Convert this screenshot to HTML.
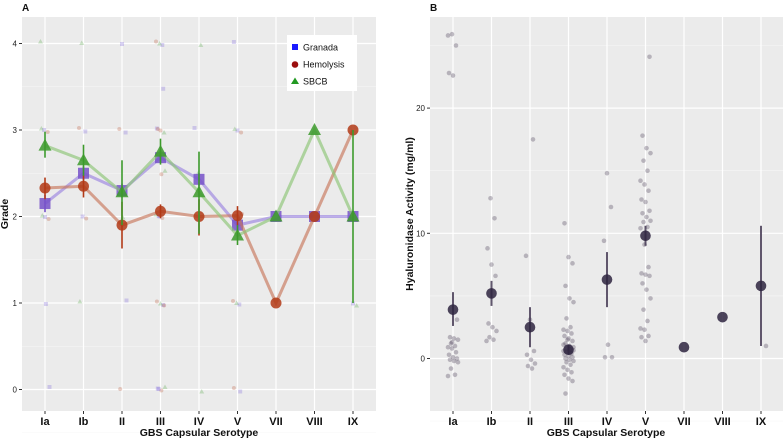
<!DOCTYPE html>
<html><head><meta charset="utf-8"><style>
body{margin:0;background:#fff;width:784px;height:439px;overflow:hidden}
svg{display:block;font-family:"Liberation Sans",Arial,sans-serif}
</style></head><body>
<svg id="chart" width="784" height="439" viewBox="0 0 784 439" xmlns="http://www.w3.org/2000/svg"></svg>
<script>
const categories=["Ia","Ib","II","III","IV","V","VII","VIII","IX"];
const granadaMean=[2.15,2.5,2.3,2.68,2.43,1.9,2,2,2];
const granadaLo=[2.05,2.42,2.22,2.62,2.35,1.84,2,2,2];
const granadaHi=[2.25,2.58,2.38,2.74,2.5,1.96,2,2,2];
const hemoMean=[2.33,2.35,1.9,2.06,2.0,2.01,1.0,2.0,3.0];
const hemoLo=[2.2,2.22,1.63,1.98,1.78,1.9,1,2,3];
const hemoHi=[2.45,2.48,2.17,2.14,2.2,2.12,1,2,3];
const sbcbMean=[2.82,2.65,2.28,2.75,2.28,1.78,2.0,3.0,2.0];
const sbcbLo=[2.68,2.47,1.9,2.6,1.8,1.67,2,3,1.0];
const sbcbHi=[2.98,2.83,2.65,2.9,2.75,1.9,2,3,3.0];
const gradeRawCat=[0,0,0,0,0,0,0,0,0,1,1,1,1,1,1,2,2,2,2,2,2,3,3,3,3,3,3,3,3,3,3,3,3,3,3,3,3,3,3,3,3,3,3,4,4,4,4,5,5,5,5,5,5,5,5,5,5,5,5,8,8];
const gradeRawVal=[4,3,3,3,2,2,2,1,0,4,3,3,2,2,1,4,3,3,2,1,0,4,4,4,3.5,3,3,3,3,2.5,2.5,2,2,2,2,1,1,1,1,0,0,0,0,4,3,2.5,0,4,3,3,3,2,2,2,1,1,1,0,0,1,1];
const gradeRawSer=[2,0,1,2,0,1,2,0,0,2,0,1,0,1,2,0,0,1,2,0,1,0,1,2,0,0,1,2,1,1,2,0,1,2,0,0,1,2,1,0,1,2,0,2,0,2,2,0,0,1,2,0,1,2,0,1,2,0,1,0,2];
const bRaw=[
[25.8,25.9,25.0,22.8,22.6,3.1,1.7,1.6,1.5,1.2,1.0,0.9,0.8,0.5,0.3,0.1,0,-0.1,-0.2,-0.3,-0.8,-1.3,-1.4,1.3],
[12.8,11.2,8.8,7.5,6.6,2.8,2.5,2.2,1.7,1.5,1.4],
[17.5,8.2,3.1,0.6,0.3,-0.1,-0.4,-0.6,-0.8],
[10.8,8.1,7.6,5.8,4.8,4.5,3.2,2.5,2.3,2.2,2.0,1.8,1.6,1.4,1.2,1.0,0.9,0.8,0.7,0.6,0.5,0.4,0.3,0.2,0.1,0,-0.1,-0.2,-0.3,-0.5,-0.7,-0.9,-1.1,-1.3,-1.6,-1.8,-2.8,0.75,0.65,0.55,0.45,1.1,1.5],
[14.8,12.1,9.4,1.1,0.1,0.1],
[24.1,17.8,16.8,16.4,15.8,15.0,14.2,13.9,13.4,12.7,12.5,11.8,11.6,11.3,11.0,10.9,10.5,10.4,9.1,7.3,6.8,6.7,6.6,6.0,5.5,4.8,3.9,3.0,2.4,2.3,1.8,1.7,1.4],
[],[],[1.0]];
const hyaMean=[3.9,5.2,2.5,0.7,6.3,9.8,0.9,3.3,5.8];
const hyaLo=[2.6,4.2,0.9,0.3,4.1,9.0,0.9,3.3,1.0];
const hyaHi=[5.3,6.2,4.1,1.1,8.5,10.6,0.9,3.3,10.6];
const aTicks=[0,1,2,3,4];const bTicks=[0,10,20];

const NS="http://www.w3.org/2000/svg";const svg=document.getElementById('chart');
function el(t,a,p){const e=document.createElementNS(NS,t);for(const k in a)e.setAttribute(k,a[k]);(p||svg).appendChild(e);return e;}
function jit(i,amp){return ((i*37%11)/10-0.5)*amp;}
// Panel A
const ax=i=>45+i*38.5, ay=v=>389.5-v*86.5;
const gA=el('g',{});
const bgA=el('rect',{x:22,y:17,width:354,height:394,fill:'#ebebeb'},gA);
for(let v=-0.5;v<=4.3;v+=0.5){if(Number.isInteger(v))continue;el('line',{x1:22,x2:376,y1:ay(v),y2:ay(v),stroke:'#f7f7f7','stroke-width':0.6},gA);}
aTicks.forEach(v=>{el('line',{x1:22,x2:376,y1:ay(v),y2:ay(v),stroke:'#fff','stroke-width':1.2},gA);el('line',{x1:19,x2:22,y1:ay(v),y2:ay(v),stroke:'#333'},gA);const t=el('text',{x:17,y:ay(v)+3,'font-size':8,'text-anchor':'end',fill:'#222'},gA);t.textContent=v;});
categories.forEach((c,i)=>{el('line',{x1:ax(i),x2:ax(i),y1:17,y2:411,stroke:'#fff','stroke-width':1.2},gA);el('line',{x1:ax(i),x2:ax(i),y1:411,y2:414,stroke:'#333'},gA);const t=el('text',{x:ax(i),y:425,'font-size':11,'font-weight':'bold','text-anchor':'middle',fill:'#111'},gA);t.textContent=c;});
const cols=['#6a4fd8','#b5401c','#3d9a2a'];
gradeRawCat.forEach((c,i)=>{const s=gradeRawSer[i];const x=ax(c)+jit(i,9),y=ay(gradeRawVal[i])+jit(i+3,5);let m;
 if(s===0)m=el('rect',{x:x-2,y:y-2,width:4,height:4,fill:cols[0],opacity:0.25},gA);else if(s===1)m=el('circle',{cx:x,cy:y,r:2,fill:cols[1],opacity:0.25},gA);else m=el('polygon',{points:`${x},${y-2.5} ${x-2.5},${y+2} ${x+2.5},${y+2}`,fill:cols[2],opacity:0.25},gA);
 });
function series(mean,lo,hi,col,lc,shape,name){const g=el('g',{},gA);
 el('polyline',{points:mean.map((v,i)=>ax(i)+','+ay(v)).join(' '),fill:'none',stroke:lc,'stroke-width':3,opacity:0.65},g);
 mean.forEach((v,i)=>{const eb=el('line',{x1:ax(i),x2:ax(i),y1:ay(lo[i]),y2:ay(hi[i]),stroke:col,'stroke-width':1.6},g);
  const x=ax(i),y=ay(v);let m;
  if(shape==='sq')m=el('rect',{x:x-5.5,y:y-5.5,width:11,height:11,fill:col,opacity:0.85},g);
  else if(shape==='c')m=el('circle',{cx:x,cy:y,r:5.5,fill:col,opacity:0.85},g);
  else m=el('polygon',{points:(x)+','+(y-7)+' '+(x-6.5)+','+(y+5)+' '+(x+6.5)+','+(y+5),fill:col,opacity:0.85},g);
  });}
series(granadaMean,granadaLo,granadaHi,'#7752c9','#9b84e0','sq','granada');
series(hemoMean,hemoLo,hemoHi,'#b23a16','#c7775a','c','hemolysis');
series(sbcbMean,sbcbLo,sbcbHi,'#3c9a2c','#8cc474','t','sbcb');
const lg=el('g',{},gA);
el('rect',{x:287,y:35,width:70,height:56,fill:'#fff'},lg);
el('rect',{x:292,y:44,width:6,height:6,fill:'#1a1aff'},lg);el('circle',{cx:295,cy:64.5,r:3.3,fill:'#9b0f0f'},lg);el('polygon',{points:'295,77.5 291,84 299,84',fill:'#229922'},lg);
[['Granada',50.5],['Hemolysis',67.5],['SBCB',84.5]].forEach(([n,y])=>{const t=el('text',{x:303,y:y,'font-size':9,fill:'#111'},lg);t.textContent=n;});
let t=el('text',{x:199,y:436,'font-size':10.5,'font-weight':'bold','text-anchor':'middle',fill:'#111'});t.textContent='GBS Capsular Serotype';
t=el('text',{x:0,y:0,'font-size':10.5,'font-weight':'bold','text-anchor':'middle',fill:'#111',transform:'translate(8,214) rotate(-90)'});t.textContent='Grade';
t=el('text',{x:22,y:11,'font-size':10,'font-weight':'bold',fill:'#111'});t.textContent='A';
// Panel B
const bx=i=>453+i*38.5, by=v=>358.5-v*12.52;
const gB=el('g',{});
const bgB=el('rect',{x:430,y:17,width:353,height:394,fill:'#ebebeb'},gB);
[-5,5,15,25].forEach(v=>el('line',{x1:430,x2:783,y1:by(v),y2:by(v),stroke:'#f7f7f7','stroke-width':0.6},gB));
bTicks.forEach(v=>{el('line',{x1:430,x2:783,y1:by(v),y2:by(v),stroke:'#fff','stroke-width':1.2},gB);el('line',{x1:427,x2:430,y1:by(v),y2:by(v),stroke:'#333'},gB);const t=el('text',{x:425,y:by(v)+3,'font-size':8,'text-anchor':'end',fill:'#222'},gB);t.textContent=v;});
categories.forEach((c,i)=>{el('line',{x1:bx(i),x2:bx(i),y1:17,y2:411,stroke:'#fff','stroke-width':1.2},gB);el('line',{x1:bx(i),x2:bx(i),y1:411,y2:414,stroke:'#333'},gB);const t=el('text',{x:bx(i),y:425,'font-size':11,'font-weight':'bold','text-anchor':'middle',fill:'#111'},gB);t.textContent=c;});
bRaw.forEach((arr,c)=>arr.forEach((v,i)=>{const p=el('circle',{cx:bx(c)+jit(i+c,10),cy:by(v),r:2.3,fill:'#3a2e4a',opacity:0.3},gB);}));
hyaMean.forEach((v,i)=>{const e=el('line',{x1:bx(i),x2:bx(i),y1:by(hyaLo[i]),y2:by(hyaHi[i]),stroke:'#3a2e4a','stroke-width':2,opacity:0.8},gB);
 const m=el('circle',{cx:bx(i),cy:by(v),r:5.3,fill:'#2e2440',opacity:0.85},gB);});
t=el('text',{x:606,y:436,'font-size':10.5,'font-weight':'bold','text-anchor':'middle',fill:'#111'});t.textContent='GBS Capsular Serotype';
t=el('text',{x:0,y:0,'font-size':10.5,'font-weight':'bold','text-anchor':'middle',fill:'#111',transform:'translate(413,214) rotate(-90)'});t.textContent='Hyaluronidase Activity (mg/ml)';
t=el('text',{x:430,y:11,'font-size':10,'font-weight':'bold',fill:'#111'});t.textContent='B';
</script>
</body></html>
